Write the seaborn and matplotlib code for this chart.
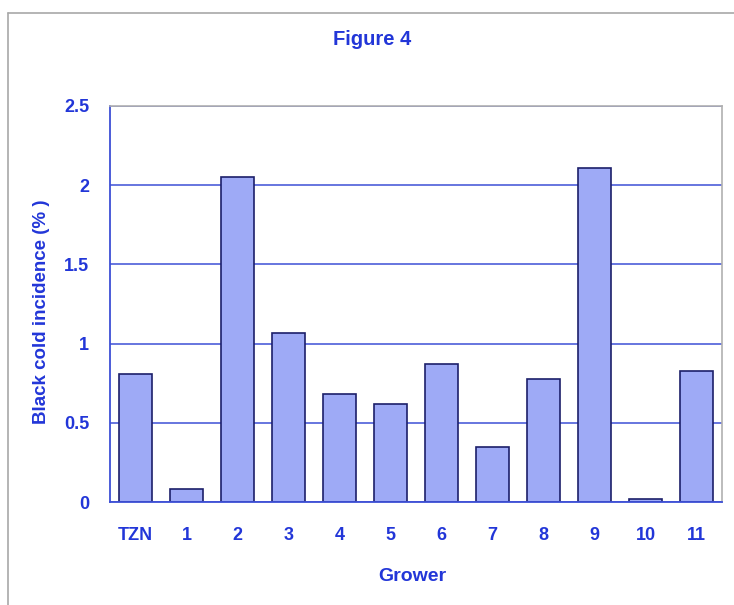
import matplotlib
matplotlib.use("Agg")
import matplotlib.pyplot as plt
import seaborn as sns
import pandas as pd
import numpy as np
from matplotlib.lines import Line2D
from matplotlib import font_manager

growers = ["TZN", "1", "2", "3", "4", "5", "6", "7", "8", "9", "10", "11"]
incidence = [0.81, 0.08, 2.05, 1.07, 0.68, 0.62, 0.87, 0.35, 0.78, 2.11, 0.02, 0.83]
y_ticks = [0, 0.5, 1, 1.5, 2, 2.5]
y_tick_labels = ["0", "0.5", "1", "1.5", "2", "2.5"]

df = pd.DataFrame({"Grower": growers, "Incidence": incidence})

sns.set_theme(style="white")
plt.rcParams["font.family"] = ["Liberation Sans", "DejaVu Sans"]

installed = {f.name for f in font_manager.fontManager.ttflist}
narrow = ["Liberation Sans Narrow", "Liberation Sans", "DejaVu Sans"] \
    if "Liberation Sans Narrow" in installed else ["Liberation Sans", "DejaVu Sans"]

text_blue = "#2236d8"
grid_blue = "#3d4fd6"
bar_fill = "#9eaaf6"
bar_edge = "#1c1f6a"

fig = plt.figure(figsize=(7.34, 6.05), dpi=100)
ax = fig.add_axes([0.150, 0.170, 0.834, 0.655])

sns.barplot(data=df, x="Grower", y="Incidence", order=growers, color=bar_fill,
            edgecolor=bar_edge, linewidth=1.2, width=0.65, saturation=1, ax=ax)

ax.set_ylim(0, 2.5)
ax.set_xlim(-0.5, len(growers) - 0.5)
ax.set_yticks(y_ticks)
ax.set_yticklabels(y_tick_labels)
ax.yaxis.grid(True, color=grid_blue, linewidth=1.1)
ax.set_axisbelow(True)

# category boundaries carry the x tick marks
ax.set_xticks(np.arange(len(growers)))
ax.set_xticklabels(growers)
ax.set_xticks(np.arange(-0.5, len(growers) + 0.5, 1), minor=True)
ax.tick_params(axis="x", which="major", length=0, pad=18)
ax.tick_params(axis="x", which="minor", length=6, width=1.2, color=grid_blue, direction="out")
ax.tick_params(axis="y", length=8, width=1.2, color=grid_blue, direction="out", pad=7)

for lab in ax.get_xticklabels() + ax.get_yticklabels():
    lab.set_color(text_blue)
    lab.set_fontweight("bold")
    lab.set_fontsize(13)
    lab.set_family(narrow)

for side in ("left", "bottom"):
    ax.spines[side].set_color(grid_blue)
    ax.spines[side].set_linewidth(1.3)
for side in ("top", "right"):
    ax.spines[side].set_color("#b0b0b0")
    ax.spines[side].set_linewidth(1.2)

ax.set_xlabel("Grower", color=text_blue, fontweight="bold", fontsize=14)
ax.xaxis.set_label_coords(0.493, -0.165)
ax.set_ylabel("Black cold incidence (% )", color=text_blue, fontweight="bold",
              fontsize=13.5)
ax.yaxis.set_label_coords(-0.098, 0.48)

fig.text(0.507, 0.934, "Figure 4", color=text_blue, fontweight="bold",
         fontsize=14.5, ha="center", va="center")

# outer chart frame
fig.add_artist(Line2D([8 / 734, 8 / 734], [0, 1 - 13 / 605], transform=fig.transFigure,
                      color="#a8a8a8", linewidth=1.2))
fig.add_artist(Line2D([8 / 734, 1], [1 - 13 / 605, 1 - 13 / 605], transform=fig.transFigure,
                      color="#a8a8a8", linewidth=1.2))

fig.savefig("out.png", dpi=100, facecolor="white")
